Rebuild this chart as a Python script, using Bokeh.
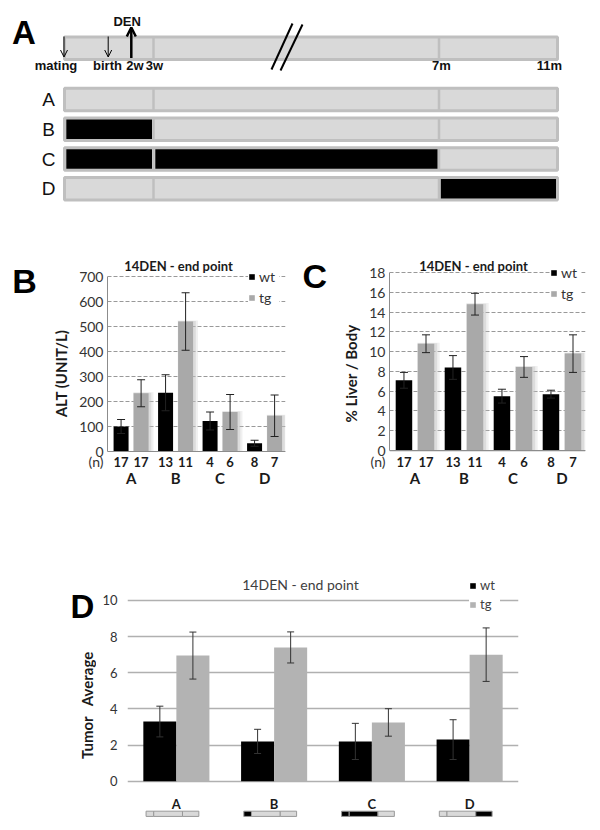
import numpy as np
from bokeh.plotting import figure
from bokeh.layouts import column, row
from bokeh.models import (Range1d, ColumnDataSource, Whisker, TeeHead, Legend, LegendItem,
                          FixedTicker, CustomJSTickFormatter, Arrow, OpenHead, Span)
from bokeh.core.properties import value
from bokeh.embed import file_html
from bokeh.resources import INLINE

# ---------------- data ----------------
groups = ["A", "B", "C", "D"]
series = ["wt", "tg"]
n_wt = [17, 13, 4, 8]
n_tg = [17, 11, 6, 7]

alt_wt = [100, 235, 122, 33]
alt_wt_err = [28, 72, 36, 12]
alt_tg = [233, 520, 158, 143]
alt_tg_err = [54, 115, 70, 83]
alt_ticks = [0, 100, 200, 300, 400, 500, 600, 700]

liver_wt = [7.1, 8.4, 5.5, 5.7]
liver_wt_err = [0.8, 1.2, 0.7, 0.4]
liver_tg = [10.8, 14.8, 8.45, 9.8]
liver_tg_err = [0.9, 1.1, 1.05, 1.9]
liver_ticks = [0, 2, 4, 6, 8, 10, 12, 14, 16, 18]

tumor_wt = [3.3, 2.2, 2.2, 2.3]
tumor_wt_err = [0.85, 0.67, 1.0, 1.1]
tumor_tg = [6.95, 7.4, 3.25, 7.0]
tumor_tg_err = [1.3, 0.86, 0.76, 1.48]
tumor_ticks = [0, 2, 4, 6, 8, 10]

# timeline schematic (panel A): drawn lengths of the periods birth-3w, 3w-7m, 7m-11m
period_edges = [0, 89, 374.5, 493]
exposure = {"A": [], "B": [0], "C": [0, 1], "D": [2]}   # periods shown black
time_labels = ["mating", "birth", "2w", "3w", "7m", "11m"]
time_label_x = [-8.5, 43, 70.5, 90, 377, 485]
event_arrow_x = [-0.5, 43.7]
den_x = 66.8
mini_fracs = [0, 0.145, 0.69, 1.0]

BLACK = "#000000"
GRAY = "#a9a9a9"
GRAY_D = "#b3b3b3"
SCH_FILL = "#d9d9d9"
SCH_LINE = "#bfbfbf"
XL_FONT = "Lato"
AR_FONT = "Liberation Sans"
TXT = "#1a1a1a"


def bare(width, height, xr, yr, **kw):
    p = figure(width=width, height=height, x_range=xr, y_range=yr,
               x_axis_location=None, y_axis_location=None,
               output_backend="svg", toolbar_location=None, **kw)
    p.grid.visible = False
    p.outline_line_color = None
    return p


# ---------------- panel A ----------------
hA = 204
pA = bare(600, hA, Range1d(-64, 536), Range1d(hA, 0), min_border=0)

row_y = [47.75, 99, 128.75, 158.5, 188.25]
bar_h = 22.5
row_names = [""] + groups
for yc, name in zip(row_y, row_names):
    pA.quad(left=[period_edges[0]], right=[period_edges[-1]], top=[yc - bar_h / 2], bottom=[yc + bar_h / 2],
            fill_color=SCH_FILL, line_color=SCH_LINE, line_width=3)
    pA.segment(x0=period_edges[1:3], x1=period_edges[1:3], y0=[yc - bar_h / 2] * 2, y1=[yc + bar_h / 2] * 2,
               line_color=SCH_LINE, line_width=2.5)
    if name:
        for seg in exposure[name]:
            pA.quad(left=[period_edges[seg] + 1.8], right=[period_edges[seg + 1] - 1.5],
                    top=[yc - bar_h / 2 + 1.6], bottom=[yc + bar_h / 2 - 1.6],
                    fill_color=BLACK, line_color=None)
        pA.text(x=[-16], y=[yc], text=[name], text_font=value(AR_FONT), text_font_size="19px",
                text_align="center", text_baseline="middle", text_color="#111111")

pA.text(x=time_label_x, y=[65] * len(time_labels), text=time_labels, text_font=value(AR_FONT),
        text_font_size="13px", text_font_style="bold", text_align="center",
        text_baseline="middle", text_color="#111111")
for ex in event_arrow_x:
    pA.add_layout(Arrow(end=OpenHead(size=7, line_width=1, line_color="black"),
                        x_start=ex, y_start=36, x_end=ex, y_end=56.5, line_width=1, line_color="black"))
pA.add_layout(Arrow(end=OpenHead(size=9, line_width=2.5, line_color="black"),
                    x_start=den_x, y_start=57.5, x_end=den_x, y_end=27, line_width=2.5, line_color="black"))
pA.text(x=[62.7], y=[21], text=["DEN"], text_font=value(AR_FONT), text_font_size="13px",
        text_font_style="bold", text_align="center", text_baseline="middle", text_color="#111111")
pA.segment(x0=[207, 216], y0=[69, 70], x1=[228, 238], y1=[23, 24], line_color="black", line_width=2)
pA.text(x=[-52.5], y=[31.5], text=["A"], text_font=value(AR_FONT), text_font_size="33px",
        text_font_style="bold", text_align="left", text_baseline="middle", text_color="black")


# ---------------- panels B, C ----------------
ROW_H = 286
TOP_B = 54
BOT_B = 2


def bar_chart(width, wt, wt_err, tg, tg_err, ticks, ylabel, xr, yr, lb, n_y, grp_y,
              title_xy, legend_loc):
    p = figure(width=width, height=ROW_H, x_range=Range1d(*xr), y_range=Range1d(*yr),
               x_axis_location=None, output_backend="svg", toolbar_location=None,
               min_border_left=lb, min_border_right=15, min_border_top=TOP_B, min_border_bottom=BOT_B)
    p.outline_line_color = None
    xs = np.arange(len(groups))
    wx = xs - 0.225
    tx = xs + 0.225
    bw = 0.337
    span = ticks[-1]
    tg_arr = np.array(tg, dtype=float)
    # soft shadow behind the tg bars
    p.vbar(x=tx + 0.05, top=tg_arr + span * 0.006, width=bw + 0.12, bottom=0,
           fill_color="#c4c4c4", fill_alpha=0.25, line_color=None)
    p.vbar(x=tx + 0.03, top=tg_arr + span * 0.003, width=bw + 0.06, bottom=0,
           fill_color="#bdbdbd", fill_alpha=0.4, line_color=None)
    r_wt = p.vbar(x=wx, top=wt, width=bw, bottom=0, fill_color=BLACK, line_color=None)
    r_tg = p.vbar(x=tx, top=tg, width=bw, bottom=0, fill_color=GRAY, line_color=None)
    for xx, v, e in ((wx, wt, wt_err), (tx, tg, tg_err)):
        v = np.array(v, dtype=float)
        e = np.array(e, dtype=float)
        src = ColumnDataSource(dict(x=xx, upper=v + e, lower=v - e))
        w = Whisker(source=src, base="x", upper="upper", lower="lower", line_color="#222222",
                    line_width=1,
                    upper_head=TeeHead(size=8, line_color="#222222", line_width=1),
                    lower_head=TeeHead(size=8, line_color="#222222", line_width=1))
        w.level = "overlay"
        p.add_layout(w)
    p.add_layout(Span(location=0, dimension="width", line_color="#8c8c8c", line_width=1.2))

    ya = p.yaxis[0]
    ya.ticker = FixedTicker(ticks=[n_y] + list(ticks))
    ya.formatter = CustomJSTickFormatter(code="return tick < 0 ? '(n)' : String(tick);")
    ya.bounds = (0, ticks[-1])
    p.ygrid.ticker = FixedTicker(ticks=ticks)
    p.ygrid.grid_line_dash = "4 2"
    p.ygrid.grid_line_color = "#999999"
    p.xgrid.visible = False
    ya.axis_line_color = "#8c8c8c"
    ya.major_tick_out = 0
    ya.major_tick_in = 0
    ya.minor_tick_out = 0
    ya.minor_tick_in = 0
    ya.major_label_text_font = XL_FONT
    ya.major_label_text_font_size = "14px"
    ya.major_label_text_color = "#333333"
    ya.major_label_standoff = 4
    ya.axis_label = ylabel
    ya.axis_label_text_font = XL_FONT
    ya.axis_label_text_font_style = "bold"
    ya.axis_label_text_font_size = "15px"
    ya.axis_label_text_color = TXT
    ya.axis_label_standoff = 6

    pos = []
    labs = []
    for i in range(len(groups)):
        pos += [float(wx[i]), float(tx[i])]
        labs += [str(n_wt[i]), str(n_tg[i])]
    p.text(x=pos, y=[n_y] * len(pos), text=labs, text_font=value(XL_FONT), text_font_size="13px",
           text_font_style="bold", text_align="center", text_baseline="middle", text_color=TXT)
    p.text(x=xs, y=[grp_y] * len(groups), text=groups, text_font=value(XL_FONT), text_font_size="15px",
           text_font_style="bold", text_align="center", text_baseline="middle", text_color=TXT)
    p.text(x=[title_xy[0]], y=[title_xy[1]], text=["14DEN - end point"], text_font=value(XL_FONT),
           text_font_size="13px", text_font_style="bold", text_align="center", text_baseline="middle",
           text_color=TXT)

    leg = Legend(items=[LegendItem(label=series[0], renderers=[r_wt]),
                        LegendItem(label=series[1], renderers=[r_tg])],
                 location=legend_loc, orientation="vertical", border_line_color=None,
                 background_fill_color="white", background_fill_alpha=1.0,
                 padding=2, spacing=4, margin=0, label_height=16, glyph_height=7, glyph_width=7,
                 label_standoff=4, label_text_font=XL_FONT, label_text_font_size="14px",
                 label_text_color="#333333")
    p.add_layout(leg)
    return p


pB = bar_chart(255, alt_wt, alt_wt_err, alt_tg, alt_tg_err, alt_ticks, "ALT (UNIT/L)",
               (-0.53, 3.47), (-148, 772), 62, -40, -104, (1.066, 744), (141, 182))
pC = bar_chart(270, liver_wt, liver_wt_err, liver_tg, liver_tg_err, liver_ticks, "% Liver / Body",
               (-0.52, 3.48), (-3.84, 19.42), 59, -1.11, -2.73, (1.194, 18.71), (161, 186))


def letter_fig(width, yrange, letter, x, y, size):
    f = bare(width, ROW_H, Range1d(0, width), yrange, min_border_left=0, min_border_right=0,
             min_border_top=TOP_B, min_border_bottom=BOT_B)
    f.text(x=[x], y=[y], text=[letter], text_font=value(AR_FONT), text_font_size=size,
           text_font_style="bold", text_align="left", text_baseline="middle", text_color="black")
    return f


fB = letter_fig(45, pB.y_range, "B", 11.7, 682, "34px")
fC = letter_fig(30, pC.y_range, "C", 2, 17.64, "34px")

# ---------------- panel D ----------------
HD = 340
FD_W = 96
pD = figure(width=600 - FD_W, height=HD, x_range=Range1d(0, 4), y_range=Range1d(-2.286, 12.21),
            x_axis_location=None, min_border_left=127 - FD_W, min_border_right=82,
            min_border_top=70, min_border_bottom=8, output_backend="svg", toolbar_location=None)
pD.outline_line_color = None
xs = np.arange(len(groups)) + 0.5
bwd = 0.338
rD_wt = pD.vbar(x=xs - bwd / 2, top=tumor_wt, width=bwd, bottom=0, fill_color=BLACK, line_color=None)
rD_tg = pD.vbar(x=xs + bwd / 2, top=tumor_tg, width=bwd, bottom=0, fill_color=GRAY_D, line_color=None)
for xx, v, e in ((xs - bwd / 2, tumor_wt, tumor_wt_err), (xs + bwd / 2, tumor_tg, tumor_tg_err)):
    v = np.array(v, dtype=float)
    e = np.array(e, dtype=float)
    src = ColumnDataSource(dict(x=xx, upper=v + e, lower=v - e))
    w = Whisker(source=src, base="x", upper="upper", lower="lower", line_color="#333333", line_width=1,
                upper_head=TeeHead(size=7, line_color="#333333", line_width=1),
                lower_head=TeeHead(size=7, line_color="#333333", line_width=1))
    w.level = "overlay"
    pD.add_layout(w)

pD.yaxis.ticker = FixedTicker(ticks=tumor_ticks)
pD.ygrid.ticker = FixedTicker(ticks=tumor_ticks)
pD.ygrid.grid_line_color = "#b0b0b0"
pD.ygrid.grid_line_width = 1.5
pD.xgrid.visible = False
yD = pD.yaxis[0]
yD.axis_line_color = None
yD.major_tick_line_color = None
yD.minor_tick_line_color = None
yD.major_tick_out = 0
yD.major_tick_in = 0
yD.minor_tick_out = 0
yD.minor_tick_in = 0
yD.major_label_standoff = 10
yD.major_label_text_font = XL_FONT
yD.major_label_text_font_size = "13px"
yD.major_label_text_color = "#333333"

pD.text(x=[1.77], y=[10.89], text=["14DEN - end point"], text_font=value(XL_FONT),
        text_font_size="14px", text_align="center", text_baseline="middle", text_color="#404040")

legD = Legend(items=[LegendItem(label=series[0], renderers=[rD_wt]),
                     LegendItem(label=series[1], renderers=[rD_tg])],
              location=(342, 210), orientation="vertical", border_line_color=None,
              background_fill_color="white", background_fill_alpha=1.0,
              padding=10, spacing=3, margin=0, label_height=16, glyph_height=7, glyph_width=7,
              label_standoff=4, label_text_font=XL_FONT, label_text_font_size="13px",
              label_text_color="#404040")
pD.add_layout(legD)

# group schematics under the x axis
mini_w = 0.54
mini_top, mini_bot = -1.66, -1.95
for i, g in enumerate(groups):
    left0 = xs[i] - 0.04 - mini_w / 2
    lefts = [left0 + mini_fracs[k] * mini_w for k in range(3)]
    rights = [left0 + mini_fracs[k + 1] * mini_w for k in range(3)]
    fills = [BLACK if k in exposure[g] else SCH_FILL for k in range(3)]
    pD.quad(left=lefts, right=rights, top=[mini_top] * 3, bottom=[mini_bot] * 3,
            fill_color=fills, line_color="#999999", line_width=1)
pD.text(x=xs, y=[-1.29] * len(groups), text=groups, text_font=value(XL_FONT), text_font_size="13px",
        text_font_style="bold", text_align="center", text_baseline="middle", text_color=TXT)

fD = bare(FD_W, HD, Range1d(0, FD_W), pD.y_range, min_border_left=0, min_border_right=0,
          min_border_top=70, min_border_bottom=8)
fD.text(x=[70], y=[9.64], text=["D"], text_font=value(AR_FONT), text_font_size="33px",
        text_font_style="bold", text_align="left", text_baseline="middle", text_color="black")
fD.text(x=[86.5], y=[4.19], text=["Tumor\u00a0\u00a0\u00a0Average"], angle=[np.pi / 2],
        text_font=value(XL_FONT), text_font_size="15px", text_font_style="bold",
        text_align="center", text_baseline="middle", text_color=TXT)

out = column(pA, row(fB, pB, fC, pC), row(fD, pD))
open("out.html", "w").write(file_html(out, INLINE))
